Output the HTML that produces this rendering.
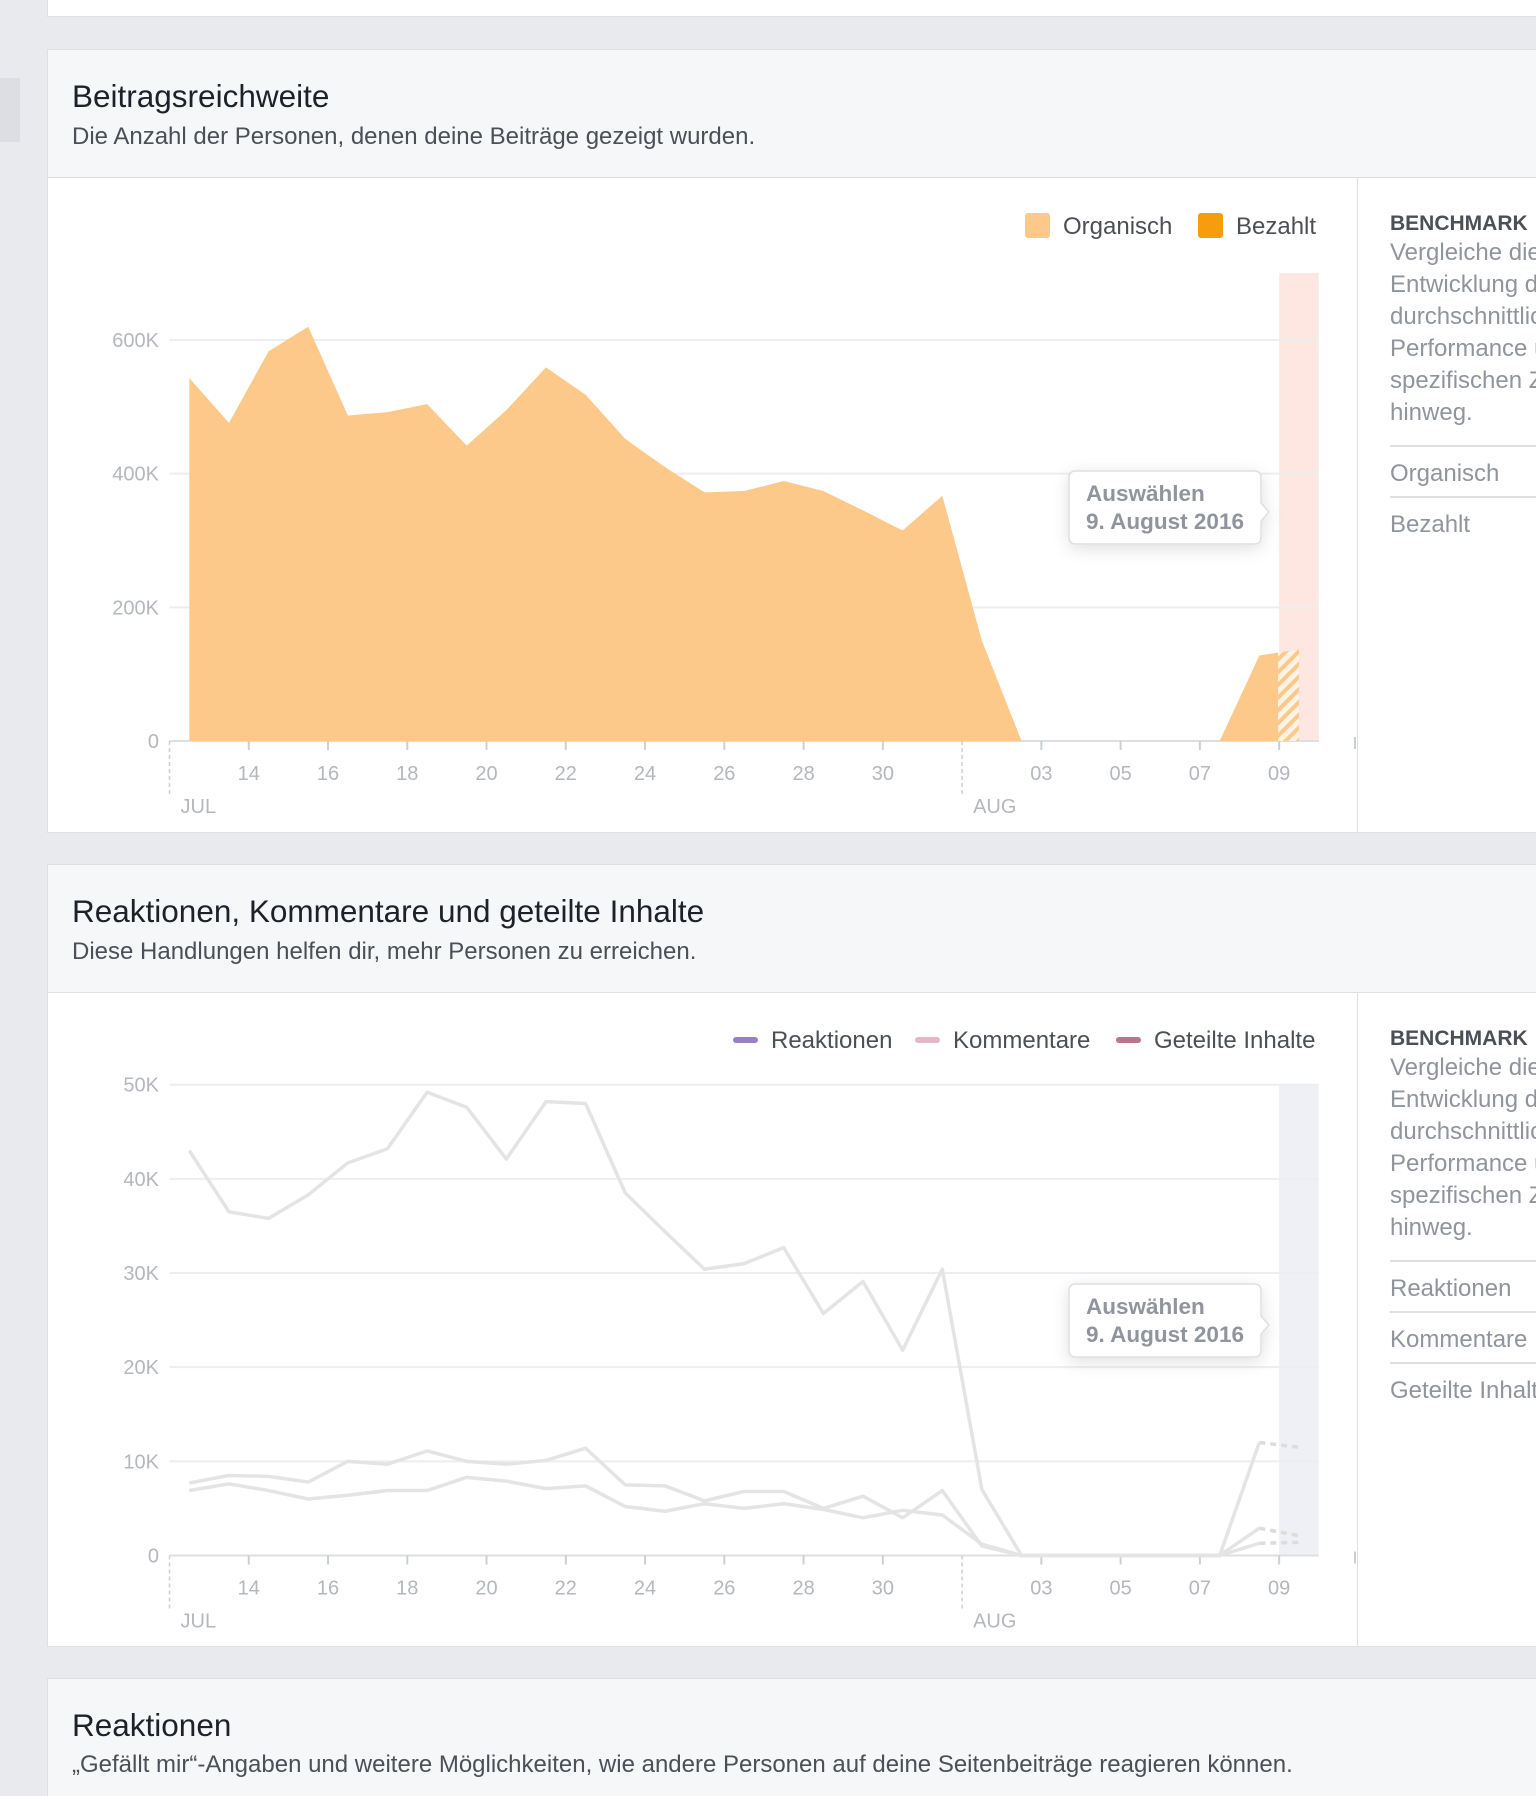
<!DOCTYPE html>
<html><head><meta charset="utf-8">
<style>
html,body{margin:0;padding:0;}
body{width:1536px;height:1796px;background:#e9eaed;position:relative;overflow:hidden;font-family:"Liberation Sans",sans-serif;}
.card{position:absolute;left:47px;width:1489px;background:#fff;border:1px solid #dddfe2;border-right:none;box-sizing:border-box;overflow:hidden;}
.hdr{position:absolute;left:0;top:0;width:100%;background:#f6f7f9;border-bottom:1px solid #dddfe2;box-sizing:border-box;}
.title{position:absolute;left:24px;font-size:31.5px;color:#1d2129;white-space:nowrap;}
.sub{position:absolute;left:24px;font-size:24px;color:#4b4f56;white-space:nowrap;}
.bench{position:absolute;left:1342px;width:146px;overflow:hidden;font-size:24px;color:#90949c;line-height:32px;white-space:nowrap;}
.bench .item{border-top:2px solid #dddfe2;padding:11px 0 6px;}
.vdiv{position:absolute;left:1309px;width:1px;background:#dddfe2;}
svg text{font-family:"Liberation Sans",sans-serif;}
</style></head><body>
<div style="position:absolute;left:47px;top:-10px;width:1489px;height:27px;background:#fff;border:1px solid #dddfe2;border-right:none;box-sizing:border-box;"></div>
<div style="position:absolute;left:0;top:78px;width:20px;height:64px;background:#dcdee3;"></div>

<div class="card" style="top:49px;height:784px;">
  <div class="hdr" style="height:128px;">
    <div class="title" style="top:28px;">Beitragsreichweite</div>
    <div class="sub" style="top:73px;">Die Anzahl der Personen, denen deine Beiträge gezeigt wurden.</div>
  </div>
  <div class="vdiv" style="top:128px;height:656px;"></div>
  <div class="bench" style="top:161px;">
    <div style="color:#4b4f56;font-weight:bold;font-size:21px;line-height:26px;">BENCHMARK</div>
    <div>Vergleiche die</div><div>Entwicklung deiner</div><div>durchschnittlichen</div><div>Performance über</div><div>spezifischen Zeitraum</div><div>hinweg.</div>
    <div class="item" style="margin-top:16px;">Organisch</div>
    <div class="item">Bezahlt</div>
  </div>
</div>

<div class="card" style="top:864px;height:783px;">
  <div class="hdr" style="height:128px;">
    <div class="title" style="top:28px;">Reaktionen, Kommentare und geteilte Inhalte</div>
    <div class="sub" style="top:73px;">Diese Handlungen helfen dir, mehr Personen zu erreichen.</div>
  </div>
  <div class="vdiv" style="top:128px;height:655px;"></div>
  <div class="bench" style="top:161px;">
    <div style="color:#4b4f56;font-weight:bold;font-size:21px;line-height:26px;">BENCHMARK</div>
    <div>Vergleiche die</div><div>Entwicklung deiner</div><div>durchschnittlichen</div><div>Performance über</div><div>spezifischen Zeitraum</div><div>hinweg.</div>
    <div class="item" style="margin-top:16px;">Reaktionen</div>
    <div class="item">Kommentare</div>
    <div class="item">Geteilte Inhalte</div>
  </div>
</div>

<div class="card" style="top:1678px;height:118px;border-bottom:none;">
  <div class="hdr" style="height:118px;border-bottom:none;">
    <div class="title" style="top:28px;">Reaktionen</div>
    <div class="sub" style="top:72px;">„Gefällt mir“-Angaben und weitere Möglichkeiten, wie andere Personen auf deine Seitenbeiträge reagieren können.</div>
  </div>
</div>

<svg id="charts" width="1536" height="1796" style="position:absolute;left:0;top:0;" xmlns="http://www.w3.org/2000/svg">
<defs>
<pattern id="hatch" width="9" height="9" patternUnits="userSpaceOnUse" patternTransform="rotate(45)">
<rect width="9" height="9" fill="#fff3e6"/><rect width="4" height="9" fill="#fdc98a"/></pattern>
<filter id="sh" x="-30%" y="-30%" width="160%" height="180%"><feDropShadow dx="0" dy="4" stdDeviation="8" flood-color="#000" flood-opacity="0.12"/></filter>
<clipPath id="c1a"><rect x="0" y="0" width="1278" height="1796"/></clipPath>
<clipPath id="c1b"><rect x="1278" y="0" width="200" height="1796"/></clipPath>
</defs>
<g id="g1"></g><g id="g2"></g>
</svg>

<script>
const dayLabels = ["12","13","14","15","16","17","18","19","20","21","22","23","24","25","26","27","28","29","30","31","01","02","03","04","05","06","07","08","09"];
const reachTicks = [0,200000,400000,600000];
const reachTickLabels = ["0","200K","400K","600K"];
const organic = [543000,476000,583000,620000,487000,492000,504000,442000,495000,559000,518000,452000,410000,372000,374000,389000,374000,345000,315000,367000,150000,0,0,0,0,0,0,128000,137000];
const engTicks = [0,10000,20000,30000,40000,50000];
const engTickLabels = ["0","10K","20K","30K","40K","50K"];
const reaktionen = [43000,36500,35800,38300,41700,43200,49200,47600,42100,48200,48000,38500,34400,30400,31000,32700,25700,29100,21800,30400,7000,0,0,0,0,0,0,12000,11500];
const kommentare = [7700,8500,8400,7800,10000,9700,11100,10000,9700,10100,11400,7500,7400,5800,6800,6800,5000,6300,4000,6900,1000,0,0,0,0,0,0,2900,2100];
const geteilte = [6900,7600,6900,6000,6400,6900,6900,8300,7900,7100,7400,5200,4700,5500,5000,5500,4900,4000,4800,4300,1200,0,0,0,0,0,0,1300,1400];

const NS="http://www.w3.org/2000/svg";
const X0=169.5, DW=39.63, XR=X0+29*DW;
function xTick(i){return X0+i*DW;}
function xPt(i){return X0+(i+0.5)*DW;}
function mk(p,tag,attrs,txt){const e=document.createElementNS(NS,tag);for(const k in attrs)e.setAttribute(k,attrs[k]);if(txt!==undefined)e.textContent=txt;p.appendChild(e);return e;}

function axes(g,off,yf,ticks,labels,prefix){
  ticks.forEach((t,k)=>{
    const y=yf(t);
    const gl=mk(g,'line',{x1:X0,x2:XR,y1:y,y2:y,stroke:'#eceef1','stroke-width':2});
    
    
    const tl=mk(g,'text',{x:159,y:y+7,'text-anchor':'end','font-size':20,fill:'#b4b7bd'},labels[k]);
    
    
  });
  const base=yf(0);
  mk(g,'line',{x1:X0,x2:XR,y1:base,y2:base,stroke:'#dddfe2','stroke-width':2});
  dayLabels.forEach((d,i)=>{
    const show = (i<20 && i%2===0 && i>0) || (i>=20 && i%2===0 && i>20);
    if(show){
      const x=xTick(i);
      mk(g,'line',{x1:x,x2:x,y1:base,y2:base+9,stroke:'#ccd0d5','stroke-width':2});
      const lb=mk(g,'text',{x:x,y:base+39,'text-anchor':'middle','font-size':20,fill:'#b4b7bd'},d);
      
      
    }
  });
  [0,20].forEach((i,k)=>{
    const x=xTick(i);
    mk(g,'line',{x1:x,x2:x,y1:base,y2:base+56,stroke:'#ccd0d5','stroke-width':1.5,'stroke-dasharray':'4,3'});
    const m=mk(g,'text',{x:x+11,y:base+72,'font-size':20,fill:'#b4b7bd'},k?'AUG':'JUL');
    
    
  });
  mk(g,'line',{x1:1355,x2:1355,y1:base-4,y2:base+8,stroke:'#ccd0d5','stroke-width':2});
}

function tooltip(g,y,prefix){
  const t=mk(g,'g',{});
  
  
  mk(t,'path',{d:`M1075 ${y} h180 a6 6 0 0 1 6 6 v26 l8 9 l-8 9 v17 a6 6 0 0 1 -6 6 h-180 a6 6 0 0 1 -6 -6 v-61 a6 6 0 0 1 6 -6 z`,fill:'#fff',stroke:'#dddfe2','stroke-width':1.5,filter:'url(#sh)'});
  mk(t,'text',{x:1086,y:y+30,'font-size':22.5,fill:'#90949c','font-weight':'bold'},'Auswählen');
  mk(t,'text',{x:1086,y:y+58,'font-size':22.5,fill:'#90949c','font-weight':'bold'},'9. August 2016');
}

// Chart 1
const g1=document.getElementById('g1');
const y1=v=>741-v/600000*401;
const b1=mk(g1,'rect',{x:xTick(28),y:273,width:XR-xTick(28),height:741-273,fill:'#fde7e0'});


axes(g1,0,y1,reachTicks,reachTickLabels,'reach');
let d='M'+xPt(0)+' '+y1(0);
organic.forEach((v,i)=>{d+=' L'+xPt(i)+' '+y1(v);});
d+=' L'+xPt(organic.length-1)+' '+y1(0)+' Z';
const a1=mk(g1,'path',{d:d,fill:'#fdc98a','clip-path':'url(#c1a)'});


const a2=mk(g1,'path',{d:d,fill:'url(#hatch)','clip-path':'url(#c1b)'});


tooltip(g1,471,'reach');
const l1=mk(g1,'g',{});


mk(l1,'rect',{x:1025,y:213,width:25,height:25,rx:3,fill:'#fdc98a'});
mk(l1,'text',{x:1063,y:234,'font-size':24,fill:'#4b4f56'},'Organisch');
const l2=mk(g1,'g',{});


mk(l2,'rect',{x:1198,y:213,width:25,height:25,rx:3,fill:'#f79b0f'});
mk(l2,'text',{x:1236,y:234,'font-size':24,fill:'#4b4f56'},'Bezahlt');

// Chart 2
const g2=document.getElementById('g2');
const y2=v=>1555.5-v/50000*470.8;
const b2=mk(g2,'rect',{x:xTick(28),y:1085,width:XR-xTick(28),height:1555.5-1085,fill:'#eef0f5'});


axes(g2,0,y2,engTicks,engTickLabels,'engagement');
[[geteilte,'geteilte-line'],[kommentare,'kommentare-line'],[reaktionen,'reaktionen-line']].forEach(([arr,name])=>{
  let p='';
  for(let i=0;i<arr.length-1;i++)p+=(i?' L':'M')+xPt(i)+' '+y2(arr[i]);
  const ln=mk(g2,'path',{d:p,fill:'none',stroke:'#e4e4e4','stroke-width':3.5,'stroke-linejoin':'round'});
  
  
  const n=arr.length;
  mk(g2,'line',{x1:xPt(n-2),y1:y2(arr[n-2]),x2:xPt(n-1),y2:y2(arr[n-1]),stroke:'#dcdcdc','stroke-width':3.5,'stroke-dasharray':'6,5'});
});
tooltip(g2,1284,'engagement');
const legs=[['Reaktionen','#9b7fc5',733,771,'legend-reaktionen'],['Kommentare','#e3b7c9',915,953,'legend-kommentare'],['Geteilte Inhalte','#b9768e',1116,1154,'legend-geteilte']];
legs.forEach(L=>{
  const lg=mk(g2,'g',{});
  
  
  mk(lg,'rect',{x:L[2],y:1037,width:25,height:6,rx:3,fill:L[1]});
  mk(lg,'text',{x:L[3],y:1048,'font-size':24,fill:'#4b4f56'},L[0]);
});
</script>
</body></html>
